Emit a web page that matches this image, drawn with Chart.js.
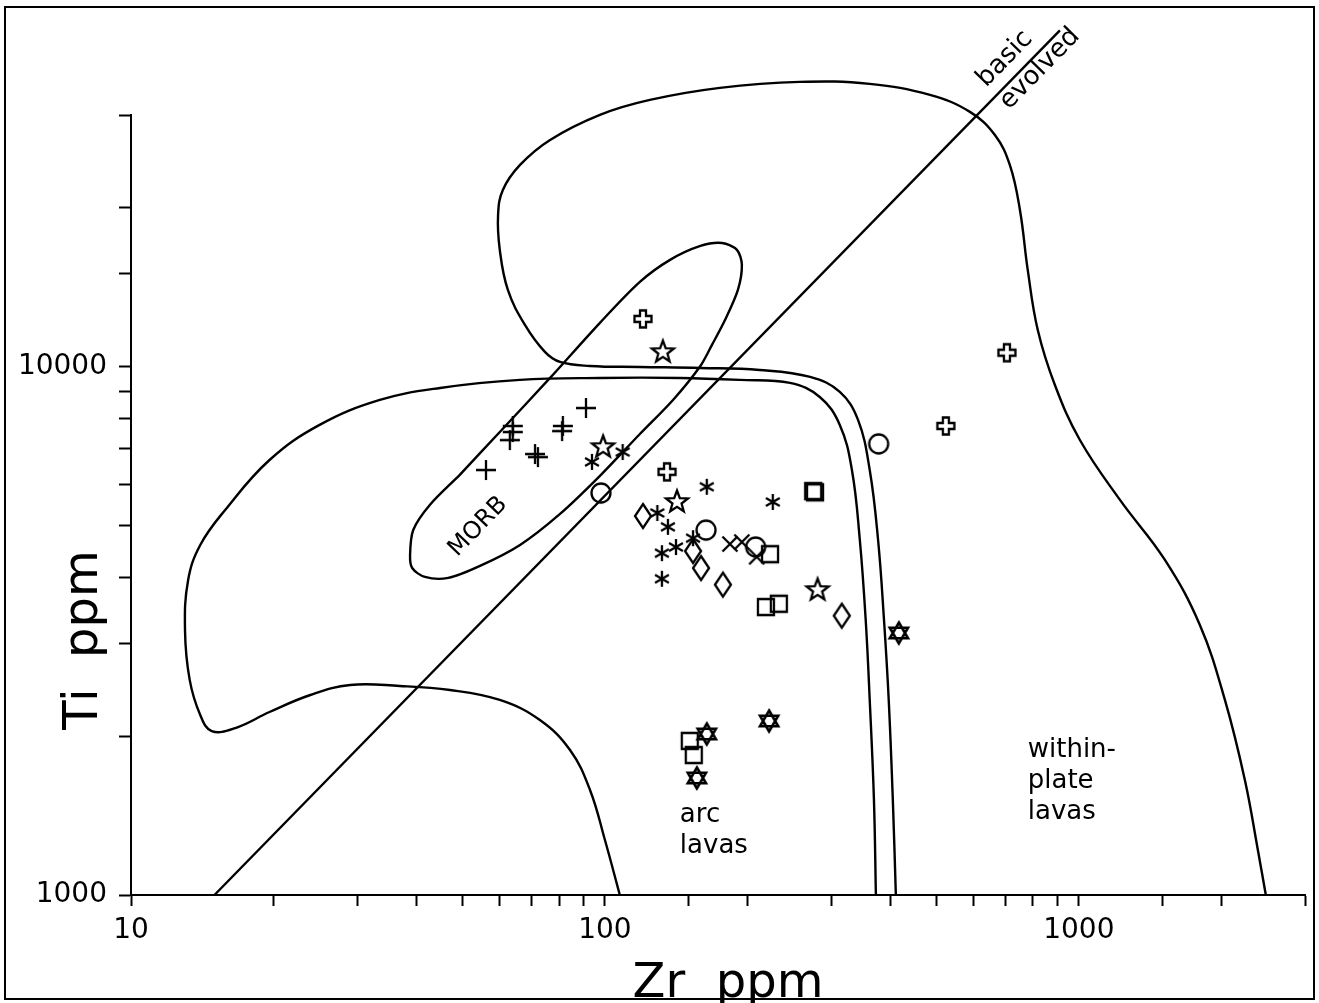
<!DOCTYPE html>
<html><head><meta charset="utf-8">
<script src="https://cdn.jsdelivr.net/npm/chart.js@4.4.1/dist/chart.umd.min.js"></script>
<style>html,body{margin:0;padding:0;background:#fff;}canvas{display:block;}</style>
</head><body>
<canvas id="c" width="1319" height="1003"></canvas>
<script>
// ---------- tick labels & titles ----------
const xTickLabels = [10, 100, 1000];
const yTickLabels = [1000, 10000];
const xTitle = 'Zr  ppm';
const yTitle = 'Ti  ppm';

// ---------- field boundaries (Zr, Ti ppm) ----------
const wplZr = [411,405,397,388,377,362,342,313,271,212,159,118.5,93,80.4,74.7,67.8,62.4,60,59.5,60.9,66.2,76.6,97.6,124.4,174.8,257.8,362,485,589,665,715,751,780,819,890,1005,1221,1519,1800,2033,2240,2386,2480];
const wplTi = [1000,1513,2341,3317,4702,6380,7937,8969,9574,9869,9957,10000,10044,10220,10680,12010,13990,16660,19410,21640,24130,26910,30020,32040,33770,34660,34360,32750,30410,27500,24130,19830,15270,11750,9245,7272,5600,4310,3246,2341,1651,1217,1000];

const arcZr = [373,369.5,362,355,345,332,313,284,245.7,192.6,143.9,97.6,66.2,44.9,33.5,25.0,19.6,15.8,14.0,13.2,13.0,13.3,14.0,14.8,16.6,19.6,23.9,29.0,36.9,47.1,60.0,72.9,84.4,93.0,100,107.5];
const arcTi = [1000,1513,2341,3317,4702,6380,7767,8772,9326,9450,9532,9532,9450,9125,8660,7767,6665,5360,4601,3950,3177,2555,2192,2044,2071,2221,2392,2499,2488,2445,2341,2145,1882,1581,1271,1000];

const morbZr = [49.4,60.0,76.6,97.6,118.5,137.2,159,176.6,189.9,194.5,190.8,179.2,168.2,159,139.2,118.5,97.6,80.4,66.2,54.5,46.7,41.7,39.2,38.8,39.4,42.7,49.4];
const morbTi = [6246,7531,9532,12120,14490,15950,16950,17170,16660,15610,13990,12270,11010,10044,8660,7466,6219,5268,4601,4199,3985,4002,4161,4405,4912,5478,6246];

const divideZr = [15, 912];
const divideTi = [1000, 43400];

// ---------- samples (Zr, Ti ppm) ----------
const plusZr = [91.2,63.9,63.9,63.0,81.5,81.2,71.2,72.2,56.1];
const plusTi = [8360,7730,7530,7270,7730,7560,6840,6750,6380];
const asteriskZr = [109,93.9,129,135.8,131.9,141.2,131.9,153.4,164,226];
const asteriskTi = [6900,6610,5290,4980,4440,4560,3970,4740,5930,5550];
const starZr = [132.5,99.1,141.9,281];
const starTi = [10670,7050,5550,3780];
const openCrossZr = [120.3,135.2,524,705];
const openCrossTi = [12330,6330,7730,10640];
const circleZr = [98.1,163.4,208,378];
const circleTi = [5770,4910,4560,7150];
const diamondZr = [120.3,153.4,159.5,177.4,316];
const diamondTi = [5220,4480,4160,3870,3380];
const xCrossZr = [183.5,194.5,209];
const xCrossTi = [4620,4660,4370];
const squareZr = [223,275,277.5,218.6,232.8,151,154];
const squareTi = [4420,5820,5790,3510,3560,1958,1841];
const hexagramZr = [417,222,164,156.3];
const hexagramTi = [3135,2136,2018,1666];

// ---------- helpers ----------
function pts(xs, ys){ return xs.map((x,i)=>({x:x, y:ys[i]})); }
function marker(draw, lw){
  const c=document.createElement('canvas'); c.width=30; c.height=30;
  const g=c.getContext('2d'); g.strokeStyle='#000'; g.lineWidth=lw||2.3; g.lineJoin='miter';
  g.translate(15,15); g.beginPath(); draw(g); g.stroke(); return c;
}
function poly(g, p){ g.moveTo(p[0][0],p[0][1]); for(let i=1;i<p.length;i++) g.lineTo(p[i][0],p[i][1]); g.closePath(); }
const mPlus = marker(g=>{g.moveTo(-10,0);g.lineTo(10,0);g.moveTo(0,-10);g.lineTo(0,10);});
const mAsterisk = marker(g=>{[90,30,150].forEach(a=>{const r=8,t=a*Math.PI/180;g.moveTo(-r*Math.cos(t),-r*Math.sin(t));g.lineTo(r*Math.cos(t),r*Math.sin(t));});});
const mStar = marker(g=>{const p=[];for(let i=0;i<10;i++){const r=i%2?4.8:11.5,t=-Math.PI/2+i*Math.PI/5;p.push([r*Math.cos(t),r*Math.sin(t)]);}poly(g,p);});
const mOpenCross = marker(g=>{const a=3,L=8.5;poly(g,[[-a,-L],[a,-L],[a,-a],[L,-a],[L,a],[a,a],[a,L],[-a,L],[-a,a],[-L,a],[-L,-a],[-a,-a]]);});
const mCircle = marker(g=>{g.arc(0,0,9.5,0,Math.PI*2);});
const mDiamond = marker(g=>{poly(g,[[0,-12],[8,0],[0,12],[-8,0]]);});
const mX = marker(g=>{g.moveTo(-7.5,-7.5);g.lineTo(7.5,7.5);g.moveTo(-7.5,7.5);g.lineTo(7.5,-7.5);});
const mSquare = marker(g=>{g.rect(-8,-8,16,16);});
const mHex = marker(g=>{const r=10.5,tri=o=>[0,1,2].map(k=>{const t=(o+k*120)*Math.PI/180;return [r*Math.cos(t),r*Math.sin(t)];});poly(g,tri(-90));poly(g,tri(90));},2.6);

const curve = (label, xs, ys, tension)=>({label, data:pts(xs,ys), showLine:true, borderColor:'#000', borderWidth:2.4,
  pointRadius:0, pointHoverRadius:0, fill:false, tension:tension, clip:false});
const mark = (label, xs, ys, style)=>({label, data:pts(xs,ys), showLine:false, pointStyle:style, pointRadius:10,
  pointHoverRadius:10, borderColor:'#000', backgroundColor:'rgba(0,0,0,0)', clip:false});

const FONT = '"DejaVu Sans", sans-serif';

const deco = {
  id:'deco',
  beforeDraw(chart){ const c=chart.ctx; c.save(); c.fillStyle='#fff'; c.fillRect(0,0,chart.width,chart.height); c.restore(); },
  afterDraw(chart){
    const c=chart.ctx, xs=chart.scales.x, ys=chart.scales.y;
    const P=(zr,ti)=>[xs.getPixelForValue(zr), ys.getPixelForValue(ti)];
    c.save();
    c.strokeStyle='#000'; c.lineWidth=2; c.strokeRect(5,7,1309,992);
    c.fillStyle='#000'; c.textBaseline='alphabetic';
    // axis titles
    c.font='48px '+FONT; c.textAlign='center';
    c.fillText(xTitle, 728, 997);
    c.save(); c.translate(97, 640); c.rotate(-Math.PI/2); c.fillText(yTitle, 0, 0); c.restore();
    // rotated labels
    const rot=(txt, zr, ti, deg, size)=>{const p=P(zr,ti); c.save(); c.translate(p[0],p[1]); c.rotate(deg*Math.PI/180);
      c.font=size+'px '+FONT; c.textAlign='center'; c.textBaseline='middle'; c.fillText(txt,0,0); c.restore();};
    rot('MORB', 54, 4980, -46, 24);
    rot('basic', 698, 38310, -45.6, 26);
    rot('evolved', 828, 36680, -45.6, 26);
    // multi-line labels
    const lines=(arr, zr, ti)=>{const p=P(zr,ti); c.font='26px '+FONT; c.textAlign='left'; c.textBaseline='alphabetic';
      arr.forEach((t,i)=>c.fillText(t,p[0],p[1]+i*31));};
    lines(['arc','lavas'], 143.9, 1375);
    lines(['within-','plate','lavas'], 780, 1825);
    c.restore();
  }
};

const tickCb = list => (v)=> list.some(t=>Math.abs(t-v)<1e-6*t) ? String(v) : '';

new Chart(document.getElementById('c'), {
  type:'scatter',
  data:{ datasets:[
    curve('within-plate field', wplZr, wplTi, 0.4),
    curve('arc field', arcZr, arcTi, 0.4),
    curve('MORB field', morbZr, morbTi, 0.3),
    curve('basic/evolved', divideZr, divideTi, 0),
    mark('plus', plusZr, plusTi, mPlus),
    mark('asterisk', asteriskZr, asteriskTi, mAsterisk),
    mark('star', starZr, starTi, mStar),
    mark('open cross', openCrossZr, openCrossTi, mOpenCross),
    mark('circle', circleZr, circleTi, mCircle),
    mark('diamond', diamondZr, diamondTi, mDiamond),
    mark('x', xCrossZr, xCrossTi, mX),
    mark('square', squareZr, squareTi, mSquare),
    mark('hexagram', hexagramZr, hexagramTi, mHex)
  ]},
  options:{
    responsive:false, animation:false, devicePixelRatio:1,
    layout:{ padding:{ top:115, right:14, left:0, bottom:0 } },
    elements:{ line:{ capBezierPoints:false } },
    plugins:{ legend:{display:false}, tooltip:{enabled:false}, title:{display:false} },
    scales:{
      x:{ type:'logarithmic', position:'bottom', min:10, max:3000,
        afterFit(s){ s.height = 108; },
        border:{ display:true, color:'#000', width:2 },
        grid:{ display:true, drawOnChartArea:false, drawTicks:true, tickLength:11, tickWidth:2, tickColor:'#000' },
        ticks:{ color:'#000', font:{ family:FONT, size:28 }, padding:8, maxRotation:0, autoSkip:false, callback:tickCb(xTickLabels) }
      },
      y:{ type:'logarithmic', position:'left', min:1000, max:30000,
        afterFit(s){ s.width = 131; },
        border:{ display:true, color:'#000', width:2 },
        grid:{ display:true, drawOnChartArea:false, drawTicks:true, tickLength:12, tickWidth:2, tickColor:'#000' },
        ticks:{ color:'#000', font:{ family:FONT, size:28 }, padding:12, autoSkip:false, callback:tickCb(yTickLabels) }
      }
    }
  },
  plugins:[deco]
});
</script>
</body></html>
